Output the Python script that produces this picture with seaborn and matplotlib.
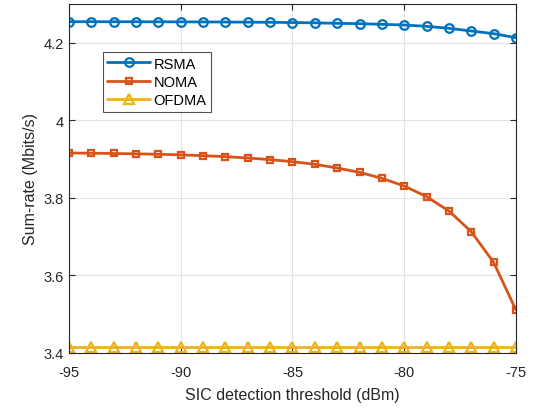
import matplotlib
matplotlib.use("Agg")
import matplotlib.pyplot as plt
import seaborn as sns
import numpy as np
import pandas as pd
from matplotlib.ticker import FuncFormatter

sns.set_theme(style="white")
plt.rcParams['font.family'] = ['Liberation Sans', 'DejaVu Sans']

threshold = [-95, -94, -93, -92, -91, -90, -89, -88, -87, -86, -85,
             -84, -83, -82, -81, -80, -79, -78, -77, -76, -75]
rsma = [4.2544, 4.2544, 4.2543, 4.2542, 4.2541, 4.2540, 4.2538, 4.2535,
        4.2532, 4.2528, 4.2522, 4.2514, 4.2502, 4.2493, 4.2476, 4.2458,
        4.2424, 4.2373, 4.2304, 4.2235, 4.2132]
noma = [3.9158, 3.9152, 3.9145, 3.9136, 3.9125, 3.9110, 3.9089, 3.9063,
        3.9029, 3.8986, 3.8934, 3.8866, 3.8771, 3.8659, 3.8505, 3.8307,
        3.8032, 3.7662, 3.7129, 3.6339, 3.5109]
ofdma = [3.4155] * 21

series = {"RSMA": rsma, "NOMA": noma, "OFDMA": ofdma}
colors = {"RSMA": "#0072BD", "NOMA": "#D95319", "OFDMA": "#EDB120"}
markers = {"RSMA": "o", "NOMA": "s", "OFDMA": "^"}
msizes = {"RSMA": 6.2, "NOMA": 5.0, "OFDMA": 7.5}

xticks = [-95, -90, -85, -80, -75]
yticks = [3.4, 3.6, 3.8, 4.0, 4.2]

fig = plt.figure(figsize=(5.33, 4.10), dpi=100)
ax = fig.add_axes([0.1295, 0.1366, 0.8385, 0.8512])

for name, vals in series.items():
    df = pd.DataFrame({"x": threshold, "y": vals})
    sns.lineplot(data=df, x="x", y="y", ax=ax, color=colors[name],
                 marker=markers[name], markersize=msizes[name], mfc="none",
                 mec=colors[name], mew=1.6, linewidth=2, label=name)

ax.set_xlim(-95, -75)
ax.set_ylim(3.4, 4.3)
ax.set_xticks(xticks)
ax.set_yticks(yticks)
ax.yaxis.set_major_formatter(FuncFormatter(lambda v, p: f"{v:g}"))
ax.xaxis.set_major_formatter(FuncFormatter(lambda v, p: f"{v:g}"))
ax.grid(True, color="#e3e3e3", linewidth=0.8)
ax.set_axisbelow(True)
for s in ax.spines.values():
    s.set_color("#262626")
    s.set_linewidth(0.8)
ax.tick_params(direction="in", length=4, width=0.8, colors="#262626",
               labelsize=10.5, top=True, right=True, bottom=True, left=True,
               pad=4)
ax.tick_params(axis="x", pad=8.5)
ax.set_xlabel("SIC detection threshold (dBm)", fontsize=11.5, color="#262626",
              labelpad=6)
ax.set_ylabel("Sum-rate (Mbits/s)", fontsize=11.5, color="#262626")

leg = ax.legend(loc="upper left", bbox_to_anchor=(0.076, 0.862),
                fontsize=10.5, frameon=True, fancybox=False,
                handlelength=2.9, borderpad=0.3, labelspacing=0.3,
                handletextpad=0.25, borderaxespad=0)
leg.get_frame().set_edgecolor("#262626")
leg.get_frame().set_linewidth(0.8)
for t in leg.get_texts():
    t.set_color("#000000")

fig.savefig("out.png", dpi=100)
